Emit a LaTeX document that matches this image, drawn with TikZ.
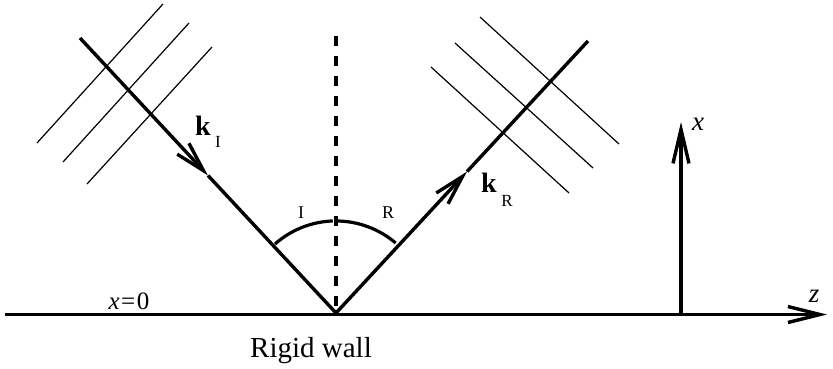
\documentclass[tikz,border=0pt]{standalone}
\usepackage{fontspec}
\setmainfont{Liberation Serif}
\usetikzlibrary{arrows.meta,calc}
\begin{document}
\begin{tikzpicture}[x=1pt,y=-1pt,
  thick line/.style={line width=3.4pt},
  wave/.style={line width=1.2pt},
  barb/.style={-{Straight Barb[length=30pt,width=16pt]}},
  lbl/.style={inner sep=0pt,anchor=base}]
\useasboundingbox (0,0) rectangle (833,369);
% key points
\coordinate (A0) at (80,38);
\coordinate (O) at (336,313);
\coordinate (R1) at (588,41);
\coordinate (mI) at ($(A0)!0.5!(O)$);
\coordinate (mR) at ($(O)!0.52!(R1)$);
\coordinate (W0) at (5,314.5);
\coordinate (W1) at (827,314.5);
\coordinate (X0) at (681,314);
\coordinate (X1) at (681,122);
\coordinate (N0) at (336,36);
% wall and axes
\draw[thick line,-{Straight Barb[length=32pt,width=16pt]}] (W0) -- (W1);
\draw[thick line,-{Straight Barb[length=34pt,width=16pt]}] (X0) -- (X1);
% normal
\draw[line width=3.4pt,dash pattern=on 10pt off 10pt] (N0) -- (O);
% rays
\draw[thick line,barb] (A0) -- (mI);
\draw[thick line] (mI) -- (O);
\draw[thick line,barb] (O) -- (mR);
\draw[thick line] (mR) -- (R1);
% wavefronts incident
\draw[wave] (37,143) -- (163,4);
\draw[wave] (63,162) -- (189,23);
\draw[wave] (87,184) -- (212,47);
% wavefronts reflected
\draw[wave] (480,17) -- (619,144);
\draw[wave] (455,43) -- (593,168);
\draw[wave] (431,67) -- (569,193);
% angle arcs
\draw[line width=3.2pt] ($(O)+(-61,-69)$) arc[start angle=-131.5,end angle=-92,radius=92];
\draw[line width=3.2pt] ($(O)+(2,-92)$) arc[start angle=-88.7,end angle=-49.5,radius=92];
% labels
\node[lbl,font=\fontsize{28}{30}\selectfont\bfseries] (kI) at (203,135) {k};
\node[lbl,font=\fontsize{17}{18}\selectfont] (kIs) at (218,147) {I};
\node[lbl,font=\fontsize{28}{30}\selectfont\bfseries] (kR) at (489,192) {k};
\node[lbl,font=\fontsize{17}{18}\selectfont] (kRs) at (507,206) {R};
\node[lbl,font=\fontsize{18}{20}\selectfont] (aI) at (301,218) {I};
\node[lbl,font=\fontsize{18}{20}\selectfont] (aR) at (388,218) {R};
\node[lbl,font=\fontsize{27}{28}\selectfont\itshape] (xl) at (698,130) {x};
\node[lbl,font=\fontsize{27}{28}\selectfont\itshape] (zl) at (814,302) {z};
\node[lbl,font=\fontsize{25}{26}\selectfont] (x0) at (129,309) {\textit{x}\hspace{1.5pt}=\hspace{1.5pt}0};
\node[lbl,font=\fontsize{29}{30}\selectfont] (wall) at (311,357) {Rigid wall};
\end{tikzpicture}
\end{document}
